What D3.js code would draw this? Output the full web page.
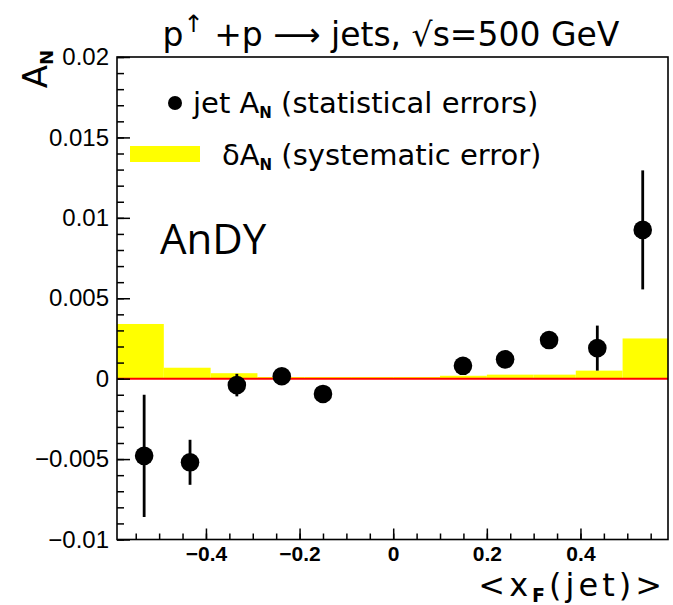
<!DOCTYPE html>
<html>
<head>
<meta charset="utf-8">
<script src="https://cdn.jsdelivr.net/npm/d3@7"></script>
<style>
  body { margin: 0; background: #fff; }
  svg { display: block; }
</style>
</head>
<body>
<svg width="673" height="605"></svg>
<script>
// mean xF of each jet bin and the asymmetry with its statistical error
var xf = [-0.532, -0.434, -0.334, -0.238, -0.150, 0.149, 0.239, 0.333, 0.436, 0.533];
var an = [-0.0048, -0.0052, -0.0004, 0.00015, -0.00095, 0.0008, 0.0012, 0.0024, 0.0019, 0.00925];
var anErr = [0.0038, 0.0014, 0.0007, 0.0004, 0.0004, 0.0004, 0.0004, 0.0004, 0.0014, 0.0037];

// systematic error band (bin edges and heights)
var sysEdges = [-0.59, -0.49, -0.39, -0.29, -0.19, -0.09, 0.0, 0.1, 0.2, 0.3, 0.39, 0.49, 0.587];
var sysVal = [0.0034, 0.00068, 0.00034, 0.0001, 0.0001, 0.0001, 0.0001, 0.00018, 0.00025, 0.00025, 0.0005, 0.0025];

var xTickValues = [-0.4, -0.2, 0, 0.2, 0.4];
var xTickLabels = ["\u22120.4", "\u22120.2", "0", "0.2", "0.4"];
var yTickValues = [-0.01, -0.005, 0, 0.005, 0.01, 0.015, 0.02];
var yTickLabels = ["\u22120.01", "\u22120.005", "0", "0.005", "0.01", "0.015", "0.02"];

var svg = d3.select("svg");

var x = d3.scaleLinear().domain([-0.59, 0.587]).range([117, 668]);
var y = d3.scaleLinear().domain([-0.01, 0.02]).range([539.5, 57]);

// yellow systematic bars
var bins = sysVal.map(function(v, i) {
    return { x0: sysEdges[i], x1: sysEdges[i + 1], v: v };
});
svg.append("g")
    .selectAll("rect")
    .data(bins)
    .enter().append("rect")
    .attr("x", function(d) { return x(d.x0); })
    .attr("width", function(d) { return x(d.x1) - x(d.x0); })
    .attr("y", function(d) { return y(d.v); })
    .attr("height", function(d) { return y(0) - y(d.v); })
    .attr("fill", "#ffff00");

// zero line
svg.append("line")
    .attr("x1", x(-0.59)).attr("x2", x(0.587))
    .attr("y1", y(0)).attr("y2", y(0))
    .attr("stroke", "#ff0000")
    .attr("stroke-width", 2);

// points with error bars
var pts = xf.map(function(v, i) { return { x: v, y: an[i], e: anErr[i] }; });
var g = svg.append("g");
g.selectAll("line")
    .data(pts)
    .enter().append("line")
    .attr("x1", function(d) { return x(d.x); })
    .attr("x2", function(d) { return x(d.x); })
    .attr("y1", function(d) { return y(d.y - d.e); })
    .attr("y2", function(d) { return y(d.y + d.e); })
    .attr("stroke", "#000")
    .attr("stroke-width", 2.8);
g.selectAll("circle")
    .data(pts)
    .enter().append("circle")
    .attr("cx", function(d) { return x(d.x); })
    .attr("cy", function(d) { return y(d.y); })
    .attr("r", 9.3)
    .attr("fill", "#000");

// axes, ticks inside the frame
var yMinor = svg.append("g")
    .attr("transform", "translate(117,0)")
    .call(d3.axisLeft(y).tickValues(d3.range(-0.01, 0.0205, 0.001)).tickSize(-7).tickFormat(""));
var yMajor = svg.append("g")
    .attr("transform", "translate(117,0)")
    .call(d3.axisLeft(y).tickValues(yTickValues).tickSize(-13).tickPadding(8)
        .tickFormat(function(d, i) { return yTickLabels[i]; }));
var xMinor = svg.append("g")
    .attr("transform", "translate(0,539.5)")
    .call(d3.axisBottom(x).tickValues(d3.range(-0.55, 0.58, 0.05)).tickSize(-6).tickFormat(""));
var xMajor = svg.append("g")
    .attr("transform", "translate(0,539.5)")
    .call(d3.axisBottom(x).tickValues(xTickValues).tickSize(-11).tickPadding(7)
        .tickFormat(function(d, i) { return xTickLabels[i]; }));

[yMinor, yMajor, xMinor, xMajor].forEach(function(a) {
    a.select(".domain").remove();
    a.selectAll("line").attr("stroke", "#000").attr("stroke-width", 1.5);
});
yMajor.selectAll("text")
    .attr("font-family", "Liberation Sans, Arial, sans-serif")
    .attr("font-size", "24px")
    .attr("fill", "#000");
xMajor.selectAll("text")
    .attr("font-family", "Liberation Sans, Arial, sans-serif")
    .attr("font-size", "21px")
    .attr("font-weight", "bold")
    .attr("fill", "#000");

// frame
svg.append("rect")
    .attr("x", x(-0.59)).attr("y", y(0.02))
    .attr("width", x(0.587) - x(-0.59))
    .attr("height", y(-0.01) - y(0.02))
    .attr("fill", "none")
    .attr("stroke", "#000")
    .attr("stroke-width", 1.6);

var font = "DejaVu Sans, sans-serif";

// title
var title = svg.append("text")
    .attr("x", 391).attr("y", 46)
    .attr("text-anchor", "middle")
    .attr("font-family", font)
    .attr("font-size", "33px")
    .attr("fill", "#000");
title.append("tspan").text("p");
title.append("tspan").attr("dy", -14).attr("font-size", "24px").text("\u2191");
title.append("tspan").attr("dy", 14).text(" +p \u27F6 jets, \u221As=500 GeV");

// y axis title
var yt = svg.append("text")
    .attr("transform", "translate(47,50) rotate(-90)")
    .attr("text-anchor", "end")
    .attr("font-family", font)
    .attr("font-size", "34px")
    .attr("fill", "#000");
yt.append("tspan").text("A");
yt.append("tspan").attr("dy", 6).attr("font-size", "18px").attr("font-weight", "bold").text("N");

// x axis title
var xt = svg.append("text")
    .attr("x", 666).attr("y", 596)
    .attr("text-anchor", "end")
    .attr("font-family", font)
    .attr("font-size", "32px")
    .attr("letter-spacing", "4px")
    .attr("fill", "#000");
xt.append("tspan").text("<x");
xt.append("tspan").attr("dy", 6).attr("font-size", "19px").attr("font-weight", "bold").text("F");
xt.append("tspan").attr("dy", -6).text("(jet)>");

// legend
svg.append("circle")
    .attr("cx", 175).attr("cy", 103).attr("r", 7)
    .attr("fill", "#000");
var l1 = svg.append("text")
    .attr("x", 193).attr("y", 113)
    .attr("font-family", font)
    .attr("font-size", "29px")
    .attr("fill", "#000");
l1.append("tspan").text("jet A");
l1.append("tspan").attr("dy", 5).attr("font-size", "15px").attr("font-weight", "bold").text("N");
l1.append("tspan").attr("dy", -5).text(" (statistical errors)");

svg.append("rect")
    .attr("x", 130).attr("y", 146).attr("width", 70).attr("height", 16)
    .attr("fill", "#ffff00");
var l2 = svg.append("text")
    .attr("x", 222).attr("y", 165)
    .attr("font-family", font)
    .attr("font-size", "29px")
    .attr("fill", "#000");
l2.append("tspan").text("\u03B4A");
l2.append("tspan").attr("dy", 5).attr("font-size", "15px").attr("font-weight", "bold").text("N");
l2.append("tspan").attr("dy", -5).text(" (systematic error)");

// experiment label
svg.append("text")
    .attr("x", 160).attr("y", 254)
    .attr("font-family", "Open Sans, sans-serif")
    .attr("font-size", "42px")
    .attr("fill", "#000")
    .text("AnDY");
</script>
</body>
</html>
